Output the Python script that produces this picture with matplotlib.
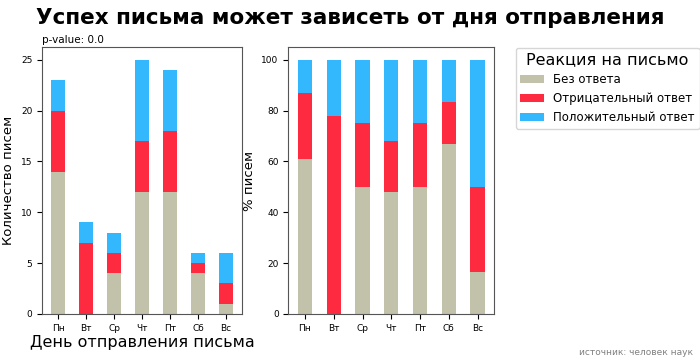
import numpy as np
import matplotlib
matplotlib.use('Agg')
import matplotlib.pyplot as plt

days = ['Пн', 'Вт', 'Ср', 'Чт', 'Пт', 'Сб', 'Вс']
no_answer = [14, 0, 4, 12, 12, 4, 1]
negative = [6, 7, 2, 5, 6, 1, 2]
positive = [3, 2, 2, 8, 6, 1, 3]
labels = ['Без ответа', 'Отрицательный ответ', 'Положительный ответ']
colors = ['#c2c1aa', '#fe2a3f', '#33b8fe']

counts = np.array([no_answer, negative, positive], dtype=float)
perc = counts / counts.sum(axis=0) * 100

fig = plt.figure(figsize=(7, 3.62), dpi=100)
ax1 = fig.add_axes([0.06, 0.133, 0.286, 0.737])
ax2 = fig.add_axes([0.412, 0.133, 0.294, 0.737])

x = np.arange(len(days))
for ax, data in [(ax1, counts), (ax2, perc)]:
    bottom = np.zeros(len(days))
    for i in range(3):
        ax.bar(x, data[i], 0.5, bottom=bottom, color=colors[i], label=labels[i])
        bottom += data[i]
    ax.set_xticks(x)
    ax.set_xticklabels(days, fontsize=6.5)
    ax.tick_params(axis='y', labelsize=6.5)
    for s in ax.spines.values():
        s.set_color('#555555')

ax1.set_ylabel('Количество писем', fontsize=9.5)
ax2.set_ylabel('% писем', fontsize=9.5)
ax1.set_xlabel('День отправления письма', fontsize=11.5, labelpad=2)
ax1.set_title('p-value: 0.0', fontsize=7.5, loc='left', pad=3)

fig.suptitle('Успех письма может зависеть от дня отправления', fontsize=15.5,
             fontweight='bold', y=0.978)

h, l = ax1.get_legend_handles_labels()
leg = fig.legend(h, l, title='Реакция на письмо', loc='upper left',
                 bbox_to_anchor=(0.728, 0.885), fontsize=8.5, title_fontsize=11.5)

fig.text(0.99, 0.02, 'источник: человек наук', fontsize=6.5, color='gray', ha='right')

fig.savefig('out.png', dpi=100)
